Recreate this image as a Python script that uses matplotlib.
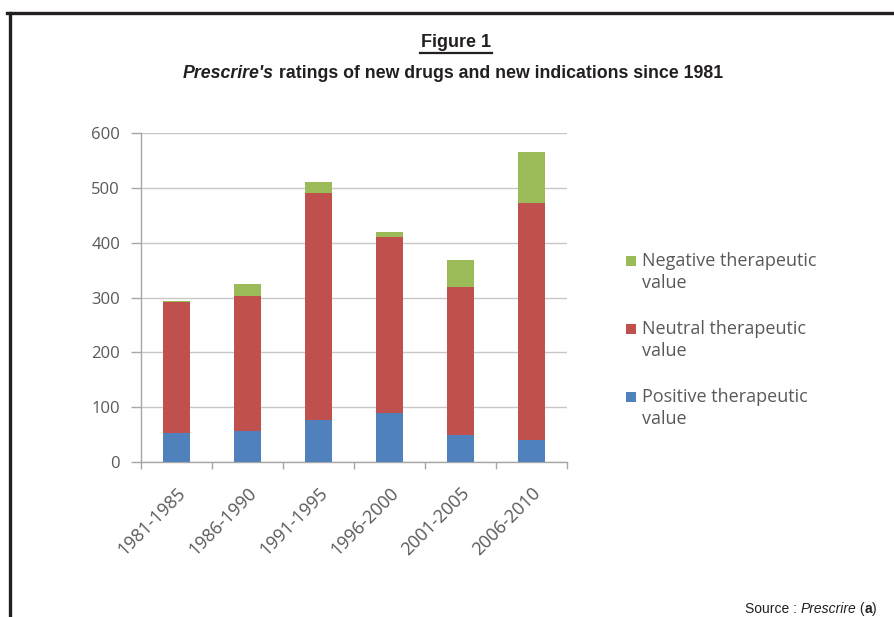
import matplotlib
matplotlib.use("Agg")
import matplotlib.pyplot as plt
import numpy as np
from matplotlib.lines import Line2D
from matplotlib.patches import Rectangle

# --- data ---
periods = ["1981-1985", "1986-1990", "1991-1995", "1996-2000", "2001-2005", "2006-2010"]
positive = [52, 57, 77, 90, 49, 40]
neutral = [239, 246, 413, 321, 270, 433]
negative = [3, 22, 21, 9, 49, 93]
series_labels = ["Negative therapeutic\nvalue", "Neutral therapeutic\nvalue", "Positive therapeutic\nvalue"]
y_ticks = [0, 100, 200, 300, 400, 500, 600]

c_pos, c_neu, c_neg = "#4f81bd", "#c0504d", "#9bbb59"
grey_txt = "#595959"
dark = "#231f20"
chart_font = ["Open Sans", "DejaVu Sans"]
head_font = ["Liberation Sans", "DejaVu Sans"]

W, H = 895, 617
fx = lambda px: px / W
fy = lambda py: 1 - py / H

fig = plt.figure(figsize=(W / 100, H / 100), dpi=100)
ax = fig.add_axes([fx(141), fy(462), (567 - 141) / W, (462 - 133) / H])

x = np.arange(len(periods))
width = 0.38
bottom2 = np.array(positive) + np.array(neutral)
ax.bar(x, positive, width, color=c_pos, zorder=3)
ax.bar(x, neutral, width, bottom=positive, color=c_neu, zorder=3)
ax.bar(x, negative, width, bottom=bottom2, color=c_neg, zorder=3)

ax.set_xlim(-0.5, len(periods) - 0.5)
ax.set_ylim(0, 600)
ax.set_yticks(y_ticks)
ax.set_yticklabels([str(v) for v in y_ticks], fontsize=12, color=grey_txt, family=chart_font)
ax.yaxis.grid(True, color="#c8c8c8", linewidth=1.0, zorder=0)
ax.tick_params(axis="y", length=7, width=1, color="#a6a6a6", pad=8)

ax.set_xticks(x)
ax.set_xticklabels(periods, rotation=45, ha="right", rotation_mode="anchor",
                   fontsize=13, color=grey_txt, family=chart_font)
ax.tick_params(axis="x", length=0, pad=16)
ax.set_xticks(np.arange(-0.5, len(periods)), minor=True)
ax.tick_params(axis="x", which="minor", length=5, width=1, color="#a6a6a6")

for side in ["top", "right"]:
    ax.spines[side].set_visible(False)
for side in ["left", "bottom"]:
    ax.spines[side].set_color("#a6a6a6")
    ax.spines[side].set_linewidth(1)

# --- legend drawn by hand so the swatch sits on the first text line ---
leg_colors = [c_neg, c_neu, c_pos]
leg_top = [252, 320, 388]
for lab, col, top in zip(series_labels, leg_colors, leg_top):
    fig.add_artist(Rectangle((fx(626), fy(top + 14)), 10 / W, 10 / H, transform=fig.transFigure,
                             facecolor=col, edgecolor="none"))
    fig.text(fx(642), fy(top), lab, ha="left", va="top", fontsize=13, color=grey_txt,
             family=chart_font, linespacing=1.25)

# --- heading ---
fig.text(fx(456), fy(47), "Figure 1", ha="center", va="baseline",
         fontsize=13, fontweight="bold", family=head_font, color=dark)
fig.add_artist(Line2D([fx(420), fx(492)], [fy(53), fy(53)], color=dark, linewidth=1.6))

renderer = fig.canvas.get_renderer()
parts = [("Prescrire's", "italic", "bold"), (" ratings of new drugs and new indications since 1981", "normal", "bold")]
texts = []
for s, st, wt in parts:
    texts.append(fig.text(0, fy(78), s, ha="left", va="baseline", fontsize=12.8,
                          fontstyle=st, fontweight=wt, family=head_font, color=dark))
widths = [t.get_window_extent(renderer).width for t in texts]
x0 = 453 - sum(widths) / 2
for t, w in zip(texts, widths):
    t.set_x(fx(x0))
    x0 += w

# --- source line ---
src = [("Source : ", "normal", "normal"), ("Prescrire", "italic", "normal"), (" (", "normal", "normal"),
       ("a", "normal", "bold"), (")", "normal", "normal")]
texts = []
for s, st, wt in src:
    texts.append(fig.text(0, fy(613), s, ha="left", va="baseline", fontsize=10,
                          fontstyle=st, fontweight=wt, family=head_font, color=dark))
widths = [t.get_window_extent(renderer).width for t in texts]
x0 = 877 - sum(widths)
for t, w in zip(texts, widths):
    t.set_x(fx(x0))
    x0 += w

# --- frame lines ---
fig.add_artist(Line2D([fx(7), 1], [fy(13), fy(13)], color=dark, linewidth=2.4))
fig.add_artist(Line2D([fx(10), fx(10)], [0, fy(13)], color=dark, linewidth=2.4))

fig.savefig("out.png", dpi=100)
